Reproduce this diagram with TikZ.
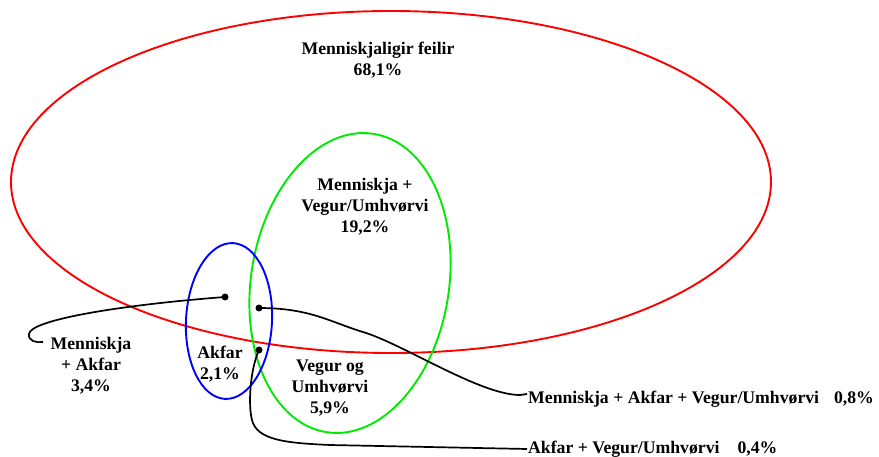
\documentclass[tikz,border=0pt]{standalone}
\usepackage{fontspec}
\setmainfont{Liberation Serif}
\begin{document}
\begin{tikzpicture}[x=1pt,y=-1pt,
  lbl/.style={font=\fontsize{17.7}{21}\selectfont\bfseries, align=center, inner sep=0pt, text=black},
  ring/.style={line width=1.9pt},
  conn/.style={line width=1.7pt, black},
  dot/.style={circle, fill=black, inner sep=0pt, minimum size=7pt}]
\definecolor{vred}{RGB}{255,0,0}
\definecolor{vgreen}{RGB}{0,235,0}
\definecolor{vblue}{RGB}{0,0,255}
\fill[white] (0,0) rectangle (879,457);
\useasboundingbox (0,0) rectangle (879,457);
% circles
\draw[ring, vred] (391,182) ellipse [x radius=380pt, y radius=171pt];
\draw[ring, vgreen, rotate around={-9:(350,283)}] (350,283) ellipse [x radius=99pt, y radius=151pt];
\draw[ring, vblue, rotate around={-3:(229,321)}] (229,321) ellipse [x radius=43pt, y radius=78pt];
% labels
\node[lbl] (hum) at (378,60) {Menniskjaligir feilir\\68,1\%};
\node[lbl] (hv) at (365,207) {Menniskja +\\Vegur/Umhv\o rvi\\19,2\%};
\node[lbl] (ha) at (91,366) {Menniskja\\+ Akfar\\3,4\%};
\node[lbl] (ak) at (220,364) {Akfar\\2,1\%};
\node[lbl] (vu) at (330,388) {Vegur og\\Umhv\o rvi\\5,9\%};
\node[lbl, anchor=base west] (lab1) at (528,403) {Menniskja + Akfar + Vegur/Umhv\o rvi\hspace{15pt}0,8\%};
\node[lbl, anchor=base west] (lab2) at (528,453) {Akfar + Vegur/Umhv\o rvi\hspace{18pt}0,4\%};
% dots
\node[dot] (d1) at (225,297) {};
\node[dot] (d2) at (259,308) {};
\node[dot] (d3) at (259,350) {};
\coordinate (h1) at (43,342);
\coordinate (e1) at (527,394);
\coordinate (e2) at (527,449);
% connectors
\draw[conn] (d1.center) .. controls (120,305) and (30,320) .. (29,334)
  .. controls (28,341) and (36,343) .. (h1);
\draw[conn] (d2.center) .. controls (310,308) and (330,322) .. (363,332)
  .. controls (403,344) and (480,395) .. (520,395) -- (e1);
\draw[conn] (d3.center) .. controls (250,370) and (248,405) .. (252,420)
  .. controls (257,440) and (285,443) .. (330,445) -- (e2);
\end{tikzpicture}
\end{document}
